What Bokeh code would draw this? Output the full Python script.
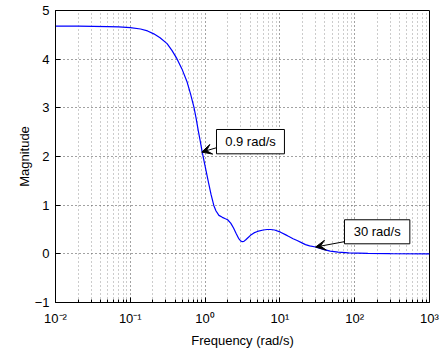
from bokeh.plotting import figure
from bokeh.models import (Range1d, FixedTicker, CustomJSTickFormatter,
                          Arrow, VeeHead, ColumnDataSource)
from bokeh.core.properties import value
from bokeh.embed import file_html
from bokeh.resources import INLINE

# ---- data ----
freq = [0.01, 0.02, 0.05, 0.07, 0.1, 0.137, 0.17, 0.206, 0.25, 0.31, 0.36, 0.42, 0.49,
        0.575, 0.64, 0.71, 0.76, 0.81, 0.86, 0.915, 1.0, 1.12, 1.2, 1.31, 1.4, 1.53,
        1.7, 1.87, 2.0, 2.2, 2.4, 2.6, 2.8, 2.97, 3.13, 3.3, 3.5, 3.8, 4.04, 4.5, 5.0,
        6.0, 6.75, 7.5, 8.5, 10.2, 12, 13, 15, 17, 20, 22, 25, 30, 38, 47, 60, 83,
        150, 300, 1000]
mag = [4.68, 4.68, 4.67, 4.665, 4.65, 4.62, 4.58, 4.52, 4.44, 4.32, 4.18, 4.01, 3.80,
       3.53, 3.28, 3.01, 2.78, 2.53, 2.32, 2.09, 1.80, 1.44, 1.22, 0.99, 0.88, 0.79,
       0.75, 0.72, 0.70, 0.63, 0.53, 0.42, 0.32, 0.27, 0.25, 0.255, 0.29, 0.34, 0.38,
       0.43, 0.46, 0.49, 0.50, 0.50, 0.49, 0.445, 0.39, 0.36, 0.31, 0.274, 0.22, 0.19,
       0.165, 0.14, 0.09, 0.054, 0.035, 0.021, 0.008, 0.003, 0.001]

x_ticks = [0.01, 0.1, 1, 10, 100, 1000]
x_tick_labels = ["10\u207b\u00b2", "10\u207b\u00b9", "10\u2070", "10\u00b9", "10\u00b2", "10\u00b3"]
y_ticks = [-1, 0, 1, 2, 3, 4, 5]
y_tick_labels = ["\u22121", "0", "1", "2", "3", "4", "5"]

ann_text = ["0.9 rad/s", "30 rad/s"]
ann_left = [1.42, 73]
ann_right = [11.5, 546]
ann_bottom = [2.055, 0.206]
ann_top = [2.555, 0.70]
arrow_tip_x = [0.9, 30]
arrow_tip_y = [2.09, 0.14]
arrow_tail_x = [1.42, 73]
arrow_tail_y = [2.18, 0.25]

FONT = "Liberation Sans"

p = figure(width=443, height=359, x_axis_type="log",
           x_range=Range1d(0.01, 1000), y_range=Range1d(-1, 5),
           output_backend="svg", toolbar_location=None,
           min_border_left=55, min_border_right=14, min_border_top=10, min_border_bottom=57)
p.background_fill_color = "white"
p.border_fill_color = "white"
p.outline_line_color = "black"
p.outline_line_width = 1
p.outline_line_alpha = 1

minor = [m * 10.0 ** e for e in range(-2, 3) for m in range(2, 10)]
p.xaxis.ticker = FixedTicker(ticks=x_ticks, minor_ticks=minor)
p.yaxis.ticker = FixedTicker(ticks=y_ticks)
p.xaxis.formatter = CustomJSTickFormatter(args=dict(labels=x_tick_labels),
    code="const i = Math.round(Math.log10(tick)) + 2; return labels[i];")
p.yaxis.formatter = CustomJSTickFormatter(args=dict(labels=y_tick_labels),
    code="return labels[Math.round(tick) + 1];")

for ax in (p.xaxis[0], p.yaxis[0]):
    ax.axis_line_color = "black"
    ax.axis_line_width = 1
    ax.major_tick_in = 5
    ax.major_tick_out = 0
    ax.major_tick_line_color = "black"
    ax.major_label_text_font = FONT
    ax.major_label_text_font_size = "13px"
    ax.major_label_text_color = "black"
    ax.axis_label_text_font = FONT
    ax.axis_label_text_font_size = "13px"
    ax.axis_label_text_font_style = "normal"
    ax.axis_label_text_color = "black"

p.xaxis.minor_tick_in = 3
p.xaxis.minor_tick_out = 0
p.xaxis.minor_tick_line_color = "black"
p.yaxis.minor_tick_line_color = None
p.xaxis.axis_label = "Frequency (rad/s)"
p.yaxis.axis_label = "Magnitude"
p.xaxis.major_label_standoff = 8
p.xaxis.axis_label_standoff = 4
p.yaxis.major_label_standoff = 6
p.yaxis.axis_label_standoff = 0

p.xgrid.ticker = p.xaxis[0].ticker
p.ygrid.ticker = p.yaxis[0].ticker
p.grid.grid_line_color = "#444444"
p.grid.grid_line_dash = "1 3"
p.grid.grid_line_width = 1
p.xgrid.minor_grid_line_color = "#999999"
p.xgrid.minor_grid_line_dash = "1 3"

p.line(freq, mag, line_color="#0000ff", line_width=1.2)

src = ColumnDataSource(dict(left=ann_left, right=ann_right, bottom=ann_bottom, top=ann_top,
                            text=ann_text,
                            cx=[(a * b) ** 0.5 for a, b in zip(ann_left, ann_right)],
                            cy=[(a + b) / 2 for a, b in zip(ann_bottom, ann_top)]))
p.quad(left="left", right="right", bottom="bottom", top="top", source=src,
       fill_color="white", line_color="black", line_width=1)
p.text(x="cx", y="cy", text="text", source=src, text_font=value(FONT),
       text_font_size="13px", text_align="center", text_baseline="middle", text_color="black")

for tx, ty, hx, hy in zip(arrow_tail_x, arrow_tail_y, arrow_tip_x, arrow_tip_y):
    p.add_layout(Arrow(end=VeeHead(size=10, fill_color="black", line_color="black"),
                       x_start=tx, y_start=ty, x_end=hx, y_end=hy,
                       line_color="black", line_width=1))

open("out.html", "w").write(file_html(p, INLINE))
